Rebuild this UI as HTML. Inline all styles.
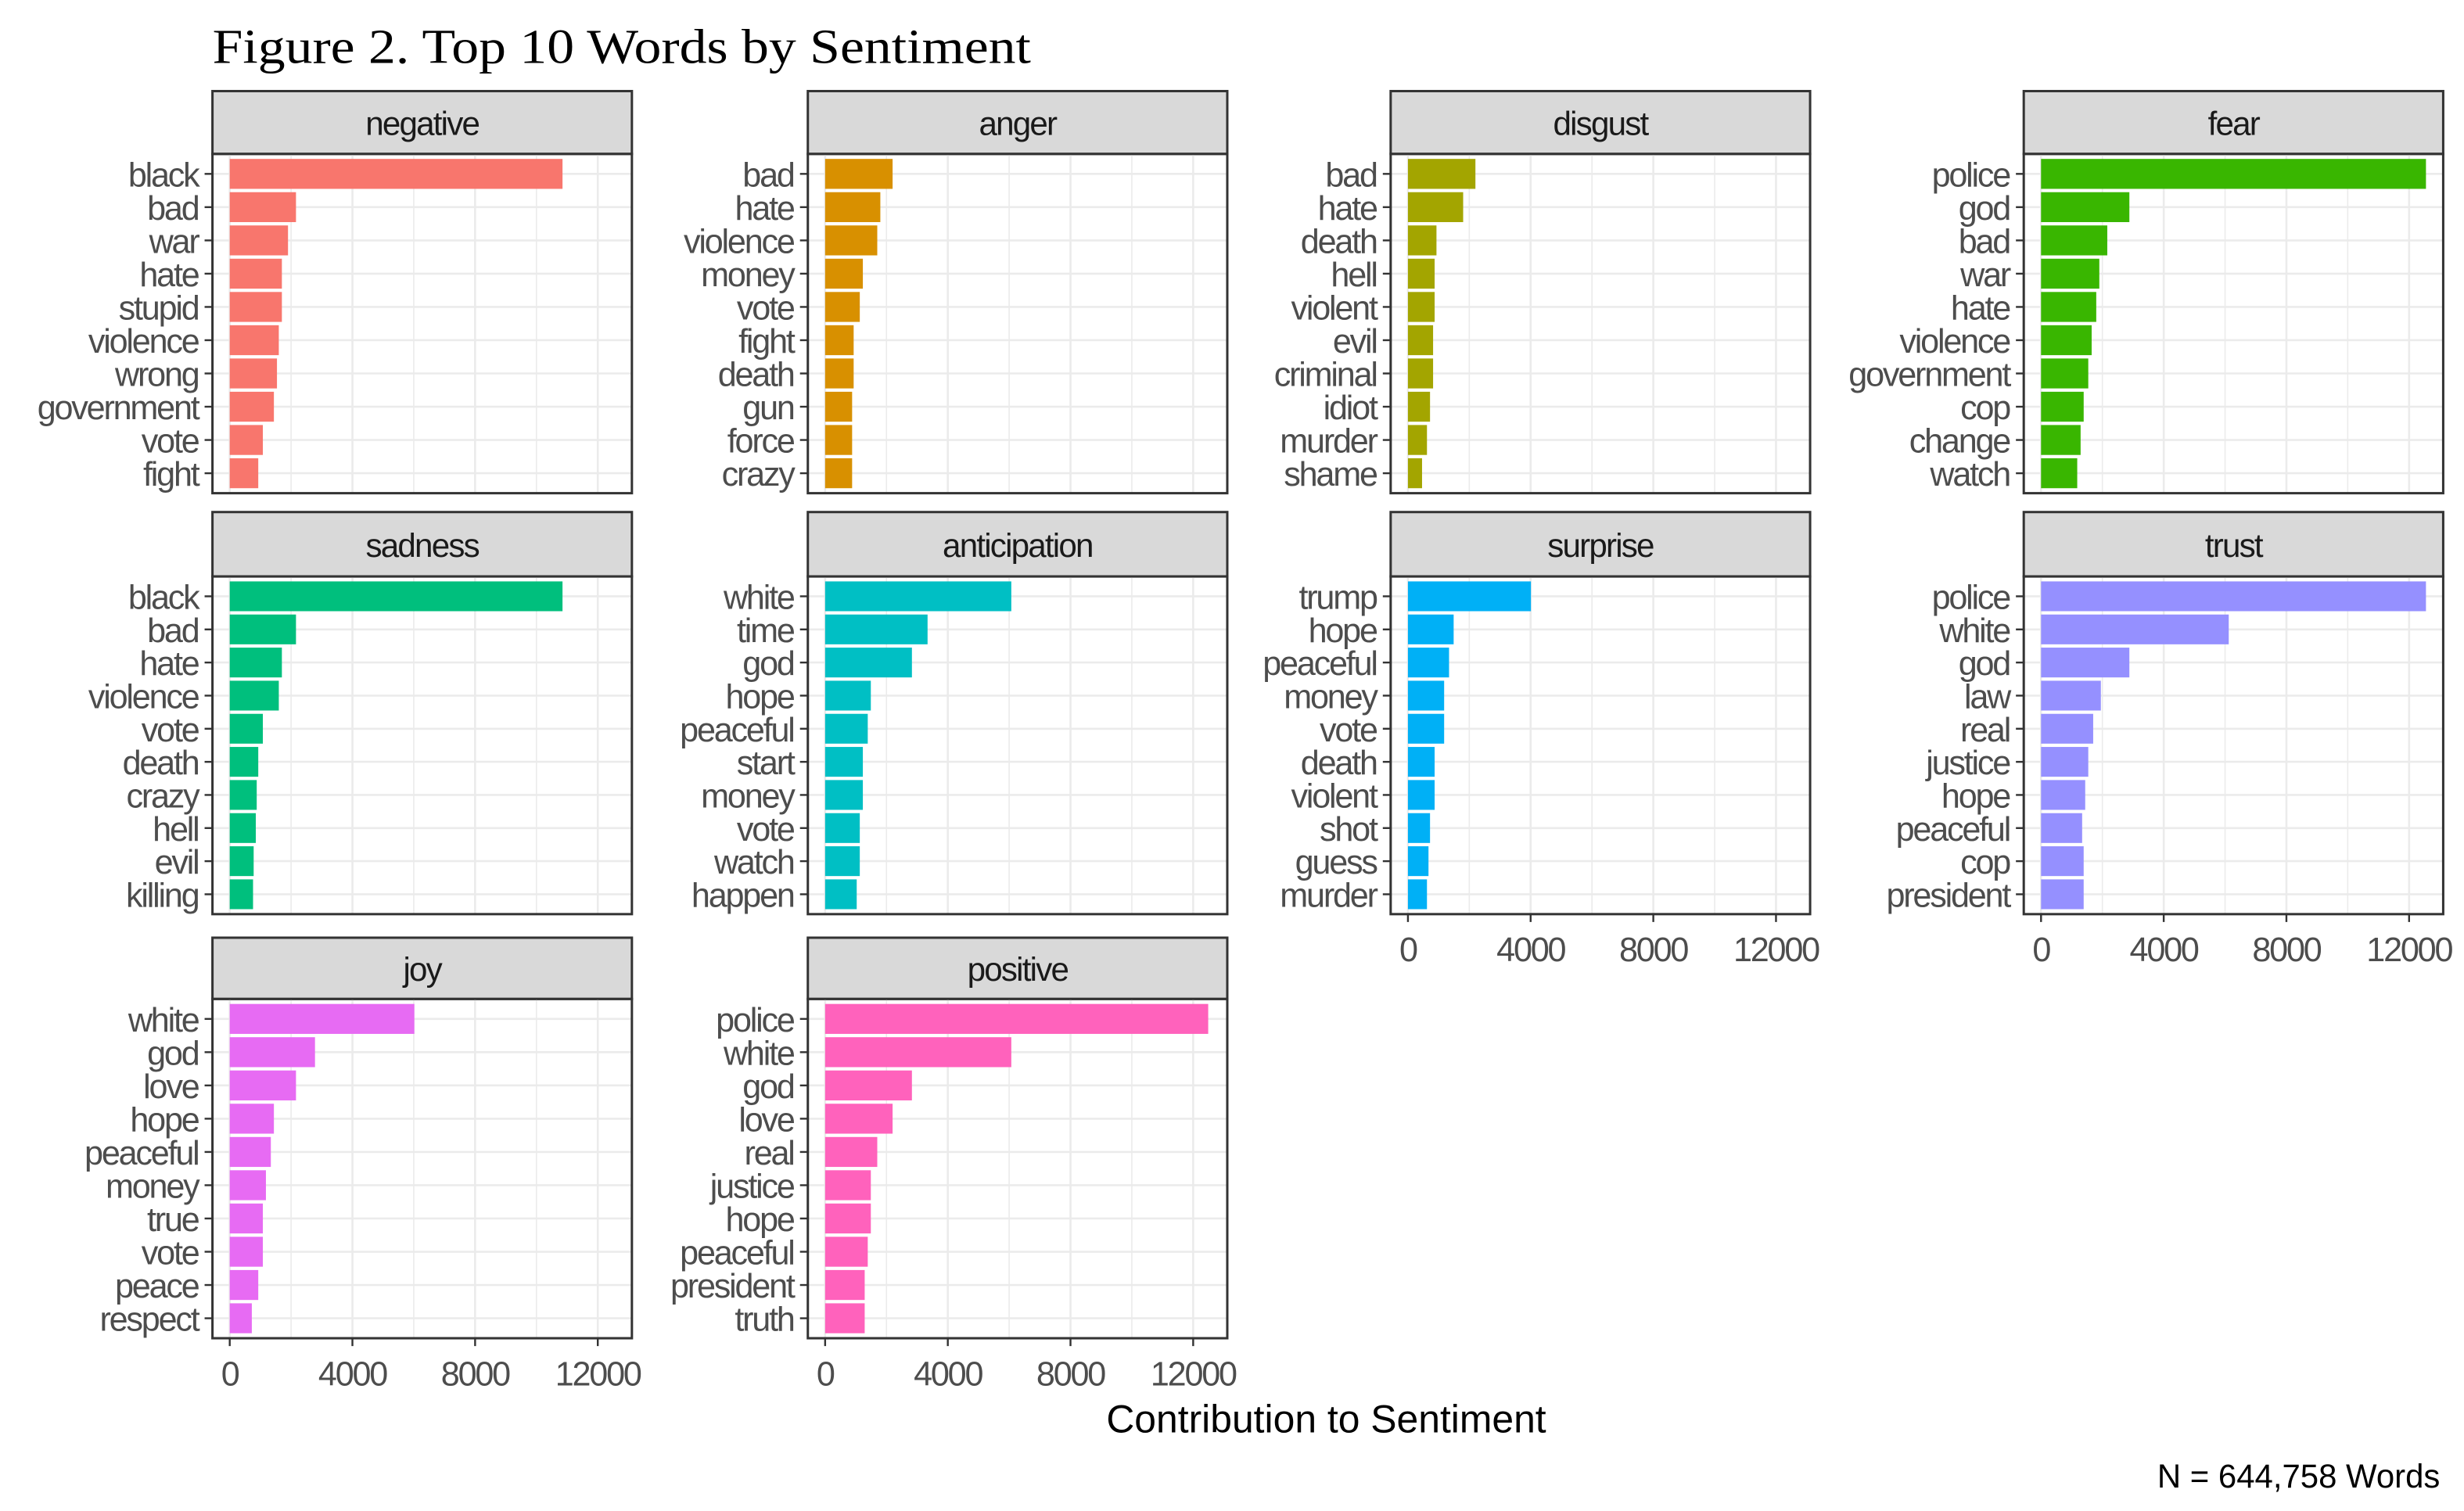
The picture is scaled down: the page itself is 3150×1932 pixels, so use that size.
<!DOCTYPE html>
<html><head><meta charset="utf-8">
<style>
html,body{margin:0;padding:0;background:#fff;}
svg{display:block;}
text{font-family:"Liberation Sans",sans-serif;}
</style></head>
<body>
<svg id="chart" width="3150" height="1932" viewBox="0 0 1568 962" xmlns="http://www.w3.org/2000/svg">
<rect width="1568" height="962" fill="#fff"/>
<text x="135" y="40" style="font-family:'Liberation Serif',serif" font-size="31" fill="#000" textLength="521" lengthAdjust="spacingAndGlyphs">Figure 2. Top 10 Words by Sentiment</text>
<text x="704" y="912" font-size="25" fill="#000" textLength="280" lengthAdjust="spacingAndGlyphs">Contribution to Sentiment</text>
<text x="1373" y="947" font-size="21" fill="#000" textLength="180" lengthAdjust="spacingAndGlyphs">N = 644,758 Words</text>
<g id="panels"></g>
</svg>
<script>
const sentiments = ["negative","anger","disgust","fear","sadness","anticipation","surprise","trust","joy","positive"];
const colors = ["#F8766D","#D89000","#A3A500","#39B600","#00BF7D","#00BFC4","#00B0F6","#9590FF","#E76BF3","#FF62BC"];
const wordsNegative = ["black","bad","war","hate","stupid","violence","wrong","government","vote","fight"];
const valuesNegative = [10850,2160,1900,1700,1700,1600,1540,1440,1080,930];
const wordsAnger = ["bad","hate","violence","money","vote","fight","death","gun","force","crazy"];
const valuesAnger = [2200,1800,1700,1230,1130,930,930,880,880,880];
const wordsDisgust = ["bad","hate","death","hell","violent","evil","criminal","idiot","murder","shame"];
const valuesDisgust = [2200,1800,930,870,870,820,820,720,620,460];
const wordsFear = ["police","god","bad","war","hate","violence","government","cop","change","watch"];
const valuesFear = [12550,2880,2160,1900,1800,1650,1540,1390,1290,1180];
const wordsSadness = ["black","bad","hate","violence","vote","death","crazy","hell","evil","killing"];
const valuesSadness = [10850,2160,1700,1600,1080,930,880,850,780,760];
const wordsAnticipation = ["white","time","god","hope","peaceful","start","money","vote","watch","happen"];
const valuesAnticipation = [6070,3340,2830,1490,1390,1230,1230,1130,1130,1030];
const wordsSurprise = ["trump","hope","peaceful","money","vote","death","violent","shot","guess","murder"];
const valuesSurprise = [4010,1490,1340,1180,1180,870,870,720,670,620];
const wordsTrust = ["police","white","god","law","real","justice","hope","peaceful","cop","president"];
const valuesTrust = [12550,6120,2880,1950,1700,1540,1440,1340,1390,1390];
const wordsJoy = ["white","god","love","hope","peaceful","money","true","vote","peace","respect"];
const valuesJoy = [6020,2780,2160,1440,1340,1180,1080,1080,930,720];
const wordsPositive = ["police","white","god","love","real","justice","hope","peaceful","president","truth"];
const valuesPositive = [12490,6070,2830,2200,1700,1490,1490,1390,1290,1290];
const xTicks = [0,4000,8000,12000];
const xTickLabels = ["0","4000","8000","12000"];

const allWords = [wordsNegative,wordsAnger,wordsDisgust,wordsFear,wordsSadness,wordsAnticipation,wordsSurprise,wordsTrust,wordsJoy,wordsPositive];
const allValues = [valuesNegative,valuesAnger,valuesDisgust,valuesFear,valuesSadness,valuesAnticipation,valuesSurprise,valuesTrust,valuesJoy,valuesPositive];

const NS = "http://www.w3.org/2000/svg";
const root = document.getElementById("panels");
const colLeft = [135,514,885,1288];
const panelW = 267;
const rows = [{s:58,t:98,b:314},{s:326,t:367,b:582},{s:597,t:636,b:852}];
const axisRows = {6:true,7:true,8:true,9:true};

function mk(tag, attrs, parent){
  const e = document.createElementNS(NS, tag);
  for (const k in attrs) e.setAttribute(k, attrs[k]);
  parent.appendChild(e);
  return e;
}

for (let i = 0; i < sentiments.length; i++){
  const col = i % 4, row = Math.floor(i / 4);
  const L = colLeft[col], R = L + panelW;
  const rr = rows[row];
  const T = rr.t, B = rr.b;
  const x0 = L + 11;
  const pxPer = (R - 10 - x0) / 12600;
  const xs = v => x0 + v * pxPer;
  const n = allWords[i].length;
  const pitch = (B - T) / (n - 1 + 1.2);
  const ys = k => T + pitch * 0.6 + k * pitch;

  const g = mk("g", {}, root);
  
  

  const strip = mk("rect", {x:L, y:rr.s, width:panelW, height:T-rr.s, fill:"#d9d9d9", stroke:"#333", "stroke-width":1.5}, g);
  
  
  const st = mk("text", {x:L+panelW/2, y:(rr.s+T)/2+8, "text-anchor":"middle", "font-size":21, fill:"#1a1a1a", "letter-spacing":"-0.9"}, g);
  st.textContent = sentiments[i];
  
  

  for (let v = 0; v <= 12000; v += 2000){
    const gl = mk("line", {x1:xs(v), x2:xs(v), y1:T, y2:B, stroke:"#ebebeb", "stroke-width": v % 4000 === 0 ? 1.3 : 0.8}, g);
    
    
  }
  for (let k = 0; k < n; k++){
    const gl = mk("line", {x1:L, x2:R, y1:ys(k), y2:ys(k), stroke:"#ebebeb", "stroke-width":1.3}, g);
    
    
  }
  for (let k = 0; k < n; k++){
    const bar = mk("rect", {x:xs(0), y:ys(k)-pitch*0.45, width:xs(allValues[i][k])-xs(0), height:pitch*0.9, fill:colors[i]}, g);
    
    
    const tk = mk("line", {x1:L-5, x2:L, y1:ys(k), y2:ys(k), stroke:"#333", "stroke-width":1.2}, g);
    
    
    const lb = mk("text", {x:L-9, y:ys(k)+8, "text-anchor":"end", "font-size":21.5, fill:"#4d4d4d", "letter-spacing":"-1.1"}, g);
    lb.textContent = allWords[i][k];
    
    
  }
  const br = mk("rect", {x:L, y:T, width:panelW, height:B-T, fill:"none", stroke:"#333", "stroke-width":1.5}, g);
  
  
  if (axisRows[i]){
    for (let t = 0; t < xTicks.length; t++){
      const tk = mk("line", {x1:xs(xTicks[t]), x2:xs(xTicks[t]), y1:B, y2:B+5, stroke:"#333", "stroke-width":1.2}, g);
      
      
      const tl = mk("text", {x:xs(xTicks[t]), y:B+30, "text-anchor":"middle", "font-size":21.5, fill:"#4d4d4d", "letter-spacing":"-1.1"}, g);
      tl.textContent = xTickLabels[t];
      
      
    }
  }
}
</script>
</body></html>
